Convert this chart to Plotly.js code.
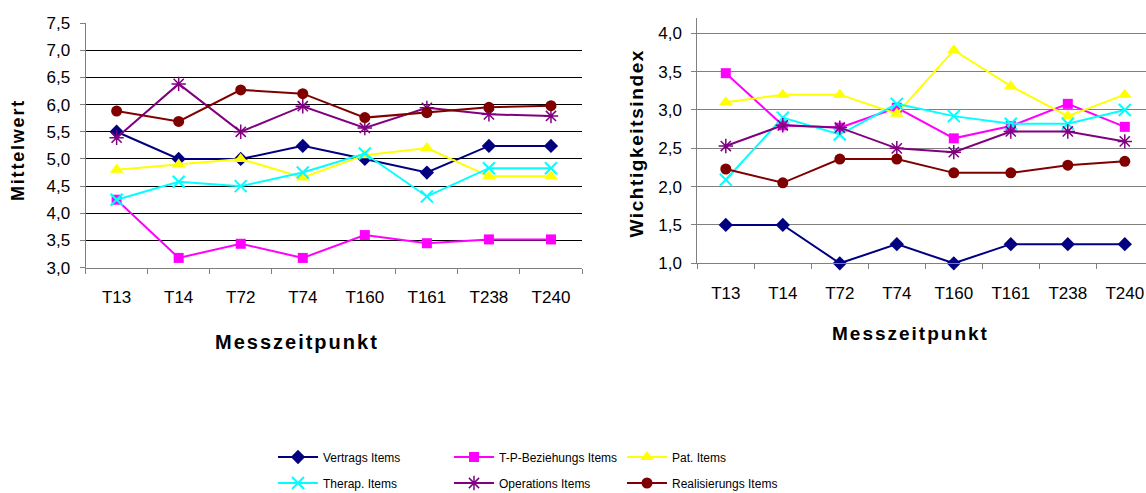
<!DOCTYPE html>
<html>
<head>
<meta charset="utf-8">
<script src="https://cdn.plot.ly/plotly-3.0.1.min.js"></script>
<style>
  html, body { margin: 0; padding: 0; background: #fff; overflow: hidden; }
  #chart { width: 1160px; height: 493px; }
</style>
</head>
<body>
<div id="chart"></div>
<script>
// Messzeitpunkte (x categories)
const zeitpunkte = ['T13', 'T14', 'T72', 'T74', 'T160', 'T161', 'T238', 'T240'];

// Mittelwerte je Item-Gruppe (linkes Diagramm)
const vertragsMittel   = [5.50, 5.00, 5.00, 5.24, 5.00, 4.75, 5.24, 5.24];
const beziehungsMittel = [4.25, 3.18, 3.44, 3.18, 3.60, 3.45, 3.52, 3.52];
const patMittel        = [4.80, 4.90, 5.00, 4.66, 5.07, 5.20, 4.68, 4.68];
const therapMittel     = [4.25, 4.58, 4.50, 4.75, 5.10, 4.31, 4.83, 4.83];
const operationsMittel = [5.39, 6.38, 5.50, 5.97, 5.57, 5.94, 5.82, 5.79];
const realisierMittel  = [5.88, 5.69, 6.27, 6.20, 5.76, 5.85, 5.95, 5.98];

// Wichtigkeitsindex je Item-Gruppe (rechtes Diagramm)
const vertragsIndex   = [1.50, 1.50, 1.00, 1.25, 1.00, 1.25, 1.25, 1.25];
const beziehungsIndex = [3.48, 2.80, 2.77, 3.03, 2.63, 2.79, 3.08, 2.78];
const patIndex        = [3.10, 3.20, 3.20, 2.95, 3.78, 3.31, 2.92, 3.20];
const therapIndex     = [2.09, 2.90, 2.68, 3.08, 2.92, 2.82, 2.82, 3.00];
const operationsIndex = [2.53, 2.80, 2.77, 2.50, 2.45, 2.72, 2.72, 2.59];
const realisierIndex  = [2.23, 2.05, 2.36, 2.36, 2.18, 2.18, 2.28, 2.33];

// Series names
const namen = ['Vertrags Items', 'T-P-Beziehungs Items', 'Pat. Items',
               'Therap. Items', 'Operations Items', 'Realisierungs Items'];

// Canvas in pixels; paper coordinates are derived from these
const W = 1160, H = 493;
const px = v => v / W;
const py = v => 1 - v / H;

const FONT = '"Liberation Sans", Arial, sans-serif';

const styles = [
  { color: '#000080', symbol: 'diamond', size: 11 },
  { color: '#FF00FF', symbol: 'square', size: 10 },
  { color: '#FFFF00', symbol: 'triangle-up', size: 12 },
  { color: '#00FFFF', symbol: 'x-thin-open', size: 12, lw: 2 },
  { color: '#800080', symbol: 'asterisk-open', size: 12, lw: 1.5 },
  { color: '#800000', symbol: 'circle', size: 11 }
];

const mittelSerien = [vertragsMittel, beziehungsMittel, patMittel, therapMittel, operationsMittel, realisierMittel];
const indexSerien  = [vertragsIndex, beziehungsIndex, patIndex, therapIndex, operationsIndex, realisierIndex];

const legendIds = ['legend', 'legend2', 'legend3', 'legend4', 'legend5', 'legend6'];

function makeTrace(values, i, axes, withLegend) {
  const s = styles[i];
  return {
    type: 'scatter',
    mode: 'lines+markers',
    x: zeitpunkte,
    y: values,
    name: namen[i],
    xaxis: axes[0],
    yaxis: axes[1],
    showlegend: withLegend,
    legend: legendIds[i],
    line: { color: s.color, width: 2 },
    marker: {
      color: s.color,
      symbol: s.symbol,
      size: s.size,
      line: { color: s.color, width: s.lw || 0 }
    },
    cliponaxis: false,
    hoverinfo: 'x+y+name'
  };
}

const traces = [];
mittelSerien.forEach((v, i) => traces.push(makeTrace(v, i, ['x', 'y'], true)));
indexSerien.forEach((v, i) => traces.push(makeTrace(v, i, ['x2', 'y2'], false)));

function catAxis(domain, anchor) {
  return {
    domain: domain,
    anchor: anchor,
    type: 'category',
    range: [-0.5, zeitpunkte.length - 0.5],
    showgrid: false,
    zeroline: false,
    showline: true,
    linecolor: '#808080',
    linewidth: 1,
    ticks: 'outside',
    tickson: 'boundaries',
    ticklen: 5,
    tickcolor: '#808080',
    ticklabelstandoff: 14,
    tickfont: { family: FONT, size: 17, color: '#000' }
  };
}

function valAxis(domain, anchor, range, gridcolor) {
  return {
    domain: domain,
    anchor: anchor,
    range: range,
    dtick: 0.5,
    tick0: 0,
    tickformat: '.1f',
    showgrid: true,
    gridcolor: gridcolor,
    gridwidth: 1,
    zeroline: false,
    showline: true,
    linecolor: '#808080',
    linewidth: 1,
    ticks: 'outside',
    ticklen: 5,
    tickcolor: '#808080',
    ticklabelstandoff: 6,
    tickfont: { family: FONT, size: 17, color: '#000' }
  };
}

// Legend rows / columns (pixel anchors of each entry)
const legendPos = [
  [273, 457], [449, 457], [622, 457],
  [273, 483], [449, 483], [622, 483]
];

const layout = {
  width: W,
  height: H,
  margin: { l: 0, r: 0, t: 0, b: 0, autoexpand: false },
  paper_bgcolor: '#fff',
  plot_bgcolor: '#fff',
  separators: ', ',
  font: { family: FONT, color: '#000' },
  xaxis: catAxis([px(85.6), px(582)], 'y'),
  yaxis: valAxis([py(267.7), py(23)], 'x', [3, 7.5], '#000000'),
  xaxis2: catAxis([px(697.3), px(1153.3)], 'y2'),
  yaxis2: valAxis([py(263.3), py(18)], 'x2', [1, 4.2], '#808080'),
  annotations: [
    { text: 'Mittelwert', x: px(18), y: py(150), textangle: -90, size: 18 },
    { text: 'Messzeitpunkt', x: px(297), y: py(342), textangle: 0, size: 20 },
    { text: 'Wichtigkeitsindex', x: px(637), y: py(143), textangle: -90, size: 19 },
    { text: 'Messzeitpunkt', x: px(911), y: py(333), textangle: 0, size: 19 }
  ].map(a => ({
    text: a.text,
    xref: 'paper', yref: 'paper',
    x: a.x, y: a.y,
    xanchor: 'center', yanchor: 'middle',
    textangle: a.textangle,
    showarrow: false,
    font: { family: FONT, size: a.size, weight: 'bold', color: '#000' }
  }))
};

legendPos.forEach((p, i) => {
  layout[legendIds[i]] = {
    x: px(p[0]), y: py(p[1]),
    xanchor: 'left', yanchor: 'middle',
    orientation: 'v',
    bgcolor: 'rgba(0,0,0,0)',
    borderwidth: 0,
    itemwidth: 40,
    font: { family: FONT, size: 12, color: '#000' }
  };
});

// Letter spacing of the bold axis titles
const titleSpacing = ['1.8px', '2px', '1.6px', '2px'];

Plotly.newPlot('chart', traces, layout, { displayModeBar: false, staticPlot: true }).then(() => {
  document.querySelectorAll('#chart .annotation-text').forEach((el, i) => {
    el.style.letterSpacing = titleSpacing[i] || '0px';
  });
});
</script>
</body>
</html>
